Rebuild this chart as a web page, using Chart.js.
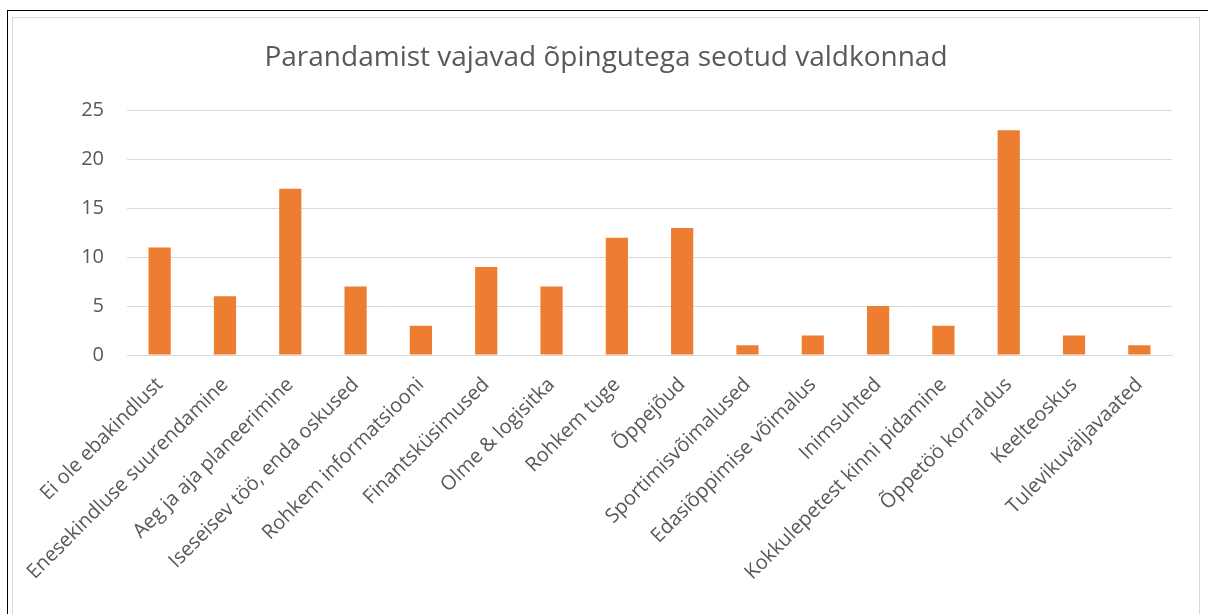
<!DOCTYPE html>
<html>
<head>
<meta charset="utf-8">
<script src="https://cdn.jsdelivr.net/npm/chart.js@4/dist/chart.umd.min.js"></script>
<style>
  body { margin: 0; background: #fff; }
  #frame { position: absolute; left: 7px; top: 10px; width: 1200px; height: 604px; border-left: 1px solid #000; border-top: 1px solid #000; }
  #box { position: absolute; left: 12px; top: 17px; width: 1188px; height: 597px; border: 1px solid #d9d9d9; border-bottom: none; box-sizing: border-box; }
  #wrap { position: absolute; left: 13px; top: 18px; width: 1186px; height: 596px; }
</style>
</head>
<body>
<div id="frame"></div>
<div id="box"></div>
<div id="wrap"><canvas id="chartValdkonnad"></canvas></div>
<script>
const kategooriad = [
    'Ei ole ebakindlust', 'Enesekindluse suurendamine', 'Aeg ja aja planeerimine',
    'Iseseisev töö, enda oskused', 'Rohkem informatsiooni', 'Finantsküsimused',
    'Olme & logisitka', 'Rohkem tuge', 'Õppejõud', 'Sportimisvõimalused',
    'Edasiõppimise võimalus', 'Inimsuhted', 'Kokkulepetest kinni pidamine',
    'Õppetöö korraldus', 'Keelteoskus', 'Tulevikuväljavaated'
];
const vastused = [11, 6, 17, 7, 3, 9, 7, 12, 13, 1, 2, 5, 3, 23, 2, 1];
const yTikid = [0, 5, 10, 15, 20, 25];

const fontPere = "'Open Sans', 'Liberation Sans', sans-serif";
const ctx = document.getElementById('chartValdkonnad').getContext('2d');

new Chart(ctx, {
    type: 'bar',
    data: {
        labels: kategooriad,
        datasets: [{
            data: vastused,
            backgroundColor: '#ED7D31',
            barPercentage: 0.34,
            categoryPercentage: 1.0
        }]
    },
    options: {
        responsive: true,
        maintainAspectRatio: false,
        animation: false,
        layout: { padding: { left: 27, right: 27, top: 0, bottom: 8 } },
        plugins: {
            legend: { display: false },
            tooltip: { enabled: false },
            title: {
                display: true,
                text: 'Parandamist vajavad õpingutega seotud valdkonnad',
                color: '#595959',
                font: { family: fontPere, size: 28, weight: 'normal' },
                padding: { top: 23, bottom: 36 }
            }
        },
        scales: {
            x: {
                grid: { display: false },
                border: { color: '#d9d9d9' },
                afterFit: axis => { axis.height = 251; },
                ticks: {
                    color: '#595959',
                    font: { family: fontPere, size: 20 },
                    minRotation: 45,
                    maxRotation: 45,
                    autoSkip: false,
                    padding: 10
                }
            },
            y: {
                min: 0,
                max: 25,
                afterBuildTicks: axis => { axis.ticks = yTikid.map(v => ({ value: v })); },
                afterFit: axis => { axis.width = 87; },
                grid: { color: '#d9d9d9', drawTicks: false },
                border: { display: false },
                ticks: {
                    color: '#595959',
                    font: { family: fontPere, size: 20 },
                    padding: 23
                }
            }
        }
    }
});
</script>
</body>
</html>
